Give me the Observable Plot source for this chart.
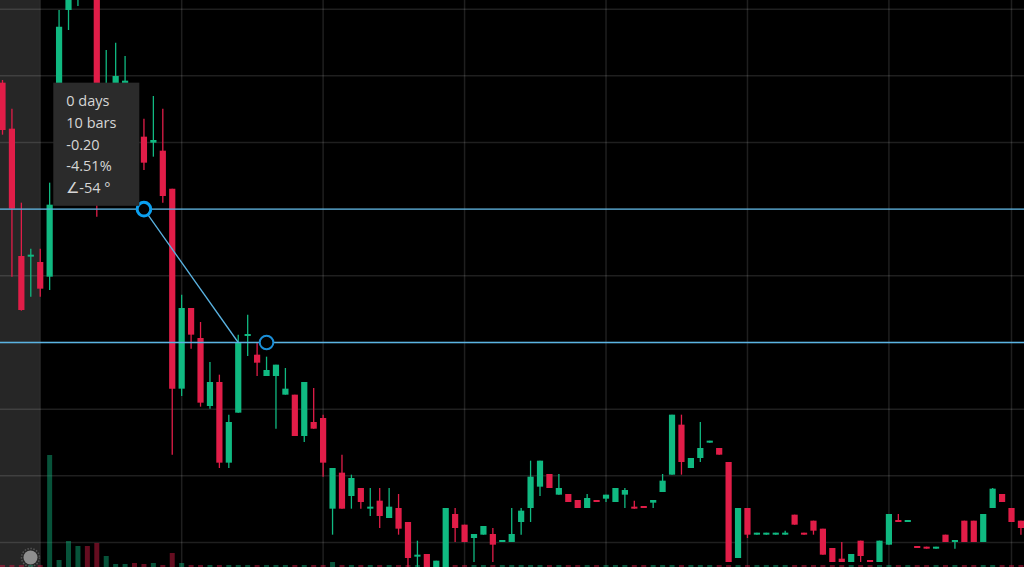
<!DOCTYPE html>
<html><head><meta charset="utf-8">
<script src="https://cdn.jsdelivr.net/npm/d3@7"></script>
<script src="https://cdn.jsdelivr.net/npm/@observablehq/plot@0.6"></script>
<style>
html,body{margin:0;padding:0;background:#000;}
#wrap{position:relative;width:1024px;height:567px;overflow:hidden;background:#000;}
#wrap svg{position:absolute;left:0;top:0;}
</style></head><body><div id="wrap"></div>
<script>
// ---- data (price units) ----
const open = [4.619,4.550,4.359,4.358,4.350,4.328,4.458,4.728,4.751,4.833,
4.788,4.488,4.518,4.617,4.563,4.538,4.529,4.517,4.460,4.160,
4.281,4.236,4.134,4.170,4.049,4.124,4.239,4.211,4.179,4.179,
4.151,4.151,4.089,4.110,4.116,3.980,4.034,3.999,4.011,3.980,
3.992,3.966,3.981,3.960,3.908,3.912,3.873,3.873,3.972,3.956,
3.936,3.941,3.942,3.930,3.930,3.960,3.981,4.013,4.032,4.001,
4.002,3.993,3.981,3.993,3.995,3.990,4.001,3.983,3.984,3.989,
4.005,4.031,4.106,4.041,4.056,4.079,4.071,4.050,3.906,3.981,
3.941,3.941,3.941,3.941,3.971,3.944,3.962,3.950,3.921,3.905,
3.900,3.932,3.903,3.900,3.926,3.963,3.960,3.924,3.923,3.920,
3.941,3.930,3.962,3.962,3.930,3.981,4.002,3.981,3.962];
const high = [4.623,4.580,4.439,4.370,4.370,4.469,4.728,4.811,4.818,4.848,
4.803,4.668,4.679,4.659,4.593,4.565,4.599,4.580,4.460,4.301,
4.281,4.260,4.200,4.181,4.121,4.241,4.271,4.229,4.208,4.196,
4.191,4.151,4.170,4.161,4.121,4.041,4.061,4.031,4.011,4.011,
4.011,4.011,4.002,3.960,3.932,3.912,3.902,3.981,3.981,3.956,
3.942,3.954,3.951,3.933,3.981,3.981,4.052,4.052,4.032,4.032,
4.002,3.993,4.002,3.993,4.001,4.011,4.011,3.992,3.984,3.993,
4.032,4.121,4.121,4.056,4.110,4.082,4.071,4.050,3.981,3.981,
3.944,3.944,3.944,3.947,3.971,3.944,3.962,3.950,3.921,3.930,
3.912,3.932,3.903,3.932,3.972,3.972,3.963,3.924,3.923,3.923,
3.941,3.933,3.962,3.962,3.972,4.011,4.002,3.981,3.962];
const low = [4.541,4.328,4.277,4.298,4.298,4.308,4.451,4.698,4.734,4.758,
4.418,4.473,4.503,4.593,4.518,4.488,4.508,4.439,4.061,4.149,
4.220,4.133,4.130,4.041,4.041,4.124,4.209,4.179,4.179,4.100,
4.151,4.089,4.080,4.100,4.028,3.941,3.980,3.980,3.980,3.969,
3.951,3.966,3.941,3.881,3.881,3.866,3.866,3.866,3.930,3.930,
3.900,3.941,3.900,3.930,3.930,3.941,3.960,3.999,4.011,4.001,
3.990,3.981,3.981,3.990,3.990,3.990,3.981,3.980,3.981,3.981,
4.005,4.031,4.031,4.041,4.050,4.079,4.061,3.900,3.906,3.936,
3.941,3.941,3.941,3.941,3.956,3.941,3.941,3.911,3.900,3.900,
3.900,3.900,3.900,3.900,3.926,3.960,3.960,3.921,3.920,3.920,
3.930,3.920,3.930,3.930,3.930,3.981,3.990,3.960,3.941];
const close = [4.548,4.430,4.278,4.361,4.310,4.436,4.703,4.796,4.803,4.773,
4.473,4.593,4.629,4.622,4.533,4.499,4.533,4.449,4.160,4.281,
4.241,4.139,4.170,4.049,4.110,4.230,4.242,4.199,4.188,4.196,
4.160,4.089,4.170,4.100,4.049,4.041,3.980,4.026,3.990,3.983,
3.969,3.983,3.950,3.906,3.911,3.873,3.902,3.981,3.951,3.930,
3.942,3.954,3.926,3.933,3.942,3.977,4.028,4.052,4.011,4.011,
3.990,3.981,3.996,3.990,4.001,4.011,4.008,3.980,3.981,3.993,
4.022,4.121,4.050,4.056,4.071,4.082,4.061,3.900,3.981,3.941,
3.944,3.944,3.944,3.944,3.956,3.941,3.947,3.911,3.900,3.900,
3.912,3.909,3.900,3.932,3.972,3.960,3.963,3.921,3.920,3.923,
3.930,3.933,3.930,3.930,3.972,4.010,3.990,3.960,3.951];
const volume = [20,20,20,20,20,1120,70,260,210,210,
240,110,30,30,40,30,40,20,140,40,
20,20,20,20,20,20,20,20,20,20,
20,20,20,20,20,50,20,20,20,20,
20,20,20,20,20,20,20,20,20,20,
20,20,20,20,20,20,20,20,20,20,
20,20,20,20,20,20,20,20,20,20,
20,20,20,20,20,20,20,20,20,20,
20,20,20,20,20,20,20,20,20,20,
20,20,20,20,20,20,20,20,20,20,
20,20,20,20,20,20,20,20,20];
const priceGrid = [4.73,4.63,4.53,4.43,4.33,4.23,4.13,4.03,3.93];
const timeGrid = [4,19,34,49,64,79,94,107];
const shadedBars = [{from: -1, to: 4}];
const measure = {bar1: 15, price1: 4.43, bar2: 25, price2: 4.23};
const handle = {bar: 28, price: 4.23};
const tooltipLines = ["0 days","10 bars","-0.20","-4.51%","∠-54 °"];
const tooltipBox = {bar1: 5.44, bar2: 14.56, price1: 4.4343, price2: 4.619};

// ---- build ----
const GREEN = "#10b981", RED = "#e11d48";
const candles = open.map((o, i) => ({i, open: o, high: high[i], low: low[i], close: close[i], vol: volume[i],
  up: close[i] >= o}));
const col = d => d.up ? GREEN : RED;
const W = 1024, H = 567;
const xDomain = [-0.212, 108.378];
const yDomain = [3.8925, 4.743];
const base = {width: W, height: H, margin: 0, style: {background: "transparent", fontFamily: "'Open Sans', sans-serif"}};
const wrap = document.getElementById("wrap");

const back = Plot.plot({...base,
  x: {domain: xDomain, axis: null}, y: {domain: yDomain, axis: null},
  marks: [
    Plot.rect(shadedBars, {x1: "from", x2: "to", fill: "#262626"}),
    Plot.ruleY(priceGrid, {stroke: "#fff", strokeOpacity: 0.12, strokeWidth: 1.5}),
    Plot.ruleX(timeGrid, {stroke: "#fff", strokeOpacity: 0.12, strokeWidth: 1.5})
  ]});
wrap.appendChild(back);

const vol = Plot.plot({...base,
  x: {domain: xDomain, axis: null}, y: {domain: [0, 1120], range: [H, 455], axis: null},
  marks: [
    Plot.ruleX(candles, {x: "i", y1: 0, y2: "vol", stroke: col, strokeOpacity: 0.45, strokeWidth: 5, clip: true})
  ]});
wrap.appendChild(vol);

const front = Plot.plot({...base,
  x: {domain: xDomain, axis: null}, y: {domain: yDomain, axis: null},
  marks: [
    Plot.ruleX(candles, {x: "i", y1: "low", y2: "high", stroke: col, strokeWidth: 1.3, clip: true}),
    Plot.ruleX(candles, {x: "i", y1: "open", y2: "close", stroke: col, strokeWidth: 6.2, clip: true}),
    Plot.ruleY([measure.price1, measure.price2], {stroke: "#5ab3e2", strokeWidth: 1.3}),
    Plot.link([measure], {x1: "bar1", y1: "price1", x2: "bar2", y2: "price2", stroke: "#5ab3e2", strokeWidth: 1.3}),
    Plot.dot([measure], {x: "bar1", y: "price1", r: 6.8, fill: "#000", stroke: "#0aa0f0", strokeWidth: 3}),
    Plot.dot([handle], {x: "bar", y: "price", r: 6.8, fill: "#000", stroke: "#1b8fd8", strokeWidth: 2}),
    Plot.rect([tooltipBox], {x1: "bar1", x2: "bar2", y1: "price1", y2: "price2", fill: "#2b2b2b"}),
    Plot.text([tooltipBox], {x: "bar1", y: "price2", text: () => tooltipLines.join("\n"),
      textAnchor: "start", lineAnchor: "top", lineHeight: 1.5, dx: 12.5, dy: 7.5,
      fontSize: 14.5, fill: "#d6d6d6"}),
    Plot.dot([0], {frameAnchor: "bottom-left", dx: 30, dy: -10, r: 9, fill: "none", stroke: "#555", strokeWidth: 1.5, strokeDasharray: "1.5,1.5"}),
    Plot.dot([0], {frameAnchor: "bottom-left", dx: 30, dy: -10, r: 7, fill: "#8e8e8e"})
  ]});
wrap.appendChild(front);
</script>
</body></html>
